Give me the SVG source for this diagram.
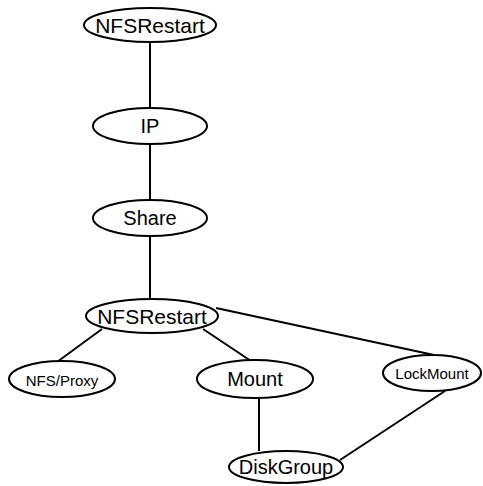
<svg xmlns="http://www.w3.org/2000/svg" width="483" height="486" viewBox="0 0 483 486">
<style>
.n ellipse{fill:#fff;stroke:#000;stroke-width:2}
.n text{font-family:"Liberation Sans",Arial,sans-serif;fill:#000;text-anchor:middle;dominant-baseline:central}
.e line{stroke:#000;stroke-width:2}
</style>
<rect width="483" height="486" fill="#fff"/>
<g class="e" id="edges">
<line x1="150" y1="42" x2="150" y2="108"/>
<line x1="150" y1="144" x2="150" y2="200"/>
<line x1="150" y1="236" x2="150" y2="299"/>
<line x1="102" y1="329" x2="57" y2="362"/>
<line x1="203" y1="329" x2="251" y2="361"/>
<line x1="216" y1="308" x2="434" y2="355"/>
<line x1="259" y1="398" x2="259" y2="451"/>
<line x1="445" y1="391" x2="340" y2="460"/>
</g>
<g class="n" id="nfsrestart1"><ellipse cx="150" cy="25" rx="66" ry="17"/><text x="150" y="25" font-size="21">NFSRestart</text></g>
<g class="n" id="ip"><ellipse cx="150" cy="126" rx="57" ry="18"/><text x="150" y="126" font-size="20">IP</text></g>
<g class="n" id="share"><ellipse cx="150" cy="218" rx="57" ry="18"/><text x="150" y="218" font-size="20">Share</text></g>
<g class="n" id="nfsrestart2"><ellipse cx="152" cy="316" rx="66" ry="17"/><text x="152" y="316" font-size="21">NFSRestart</text></g>
<g class="n" id="nfsproxy"><ellipse cx="62" cy="379" rx="53" ry="18"/><text x="62" y="380" font-size="15">NFS/Proxy</text></g>
<g class="n" id="mount"><ellipse cx="255" cy="379" rx="58" ry="19"/><text x="255" y="379" font-size="20">Mount</text></g>
<g class="n" id="lockmount"><ellipse cx="432" cy="373" rx="49" ry="18"/><text x="432" y="373" font-size="15">LockMount</text></g>
<g class="n" id="diskgroup"><ellipse cx="286" cy="467" rx="57" ry="16"/><text x="286" y="467" font-size="20">DiskGroup</text></g>
</svg>
